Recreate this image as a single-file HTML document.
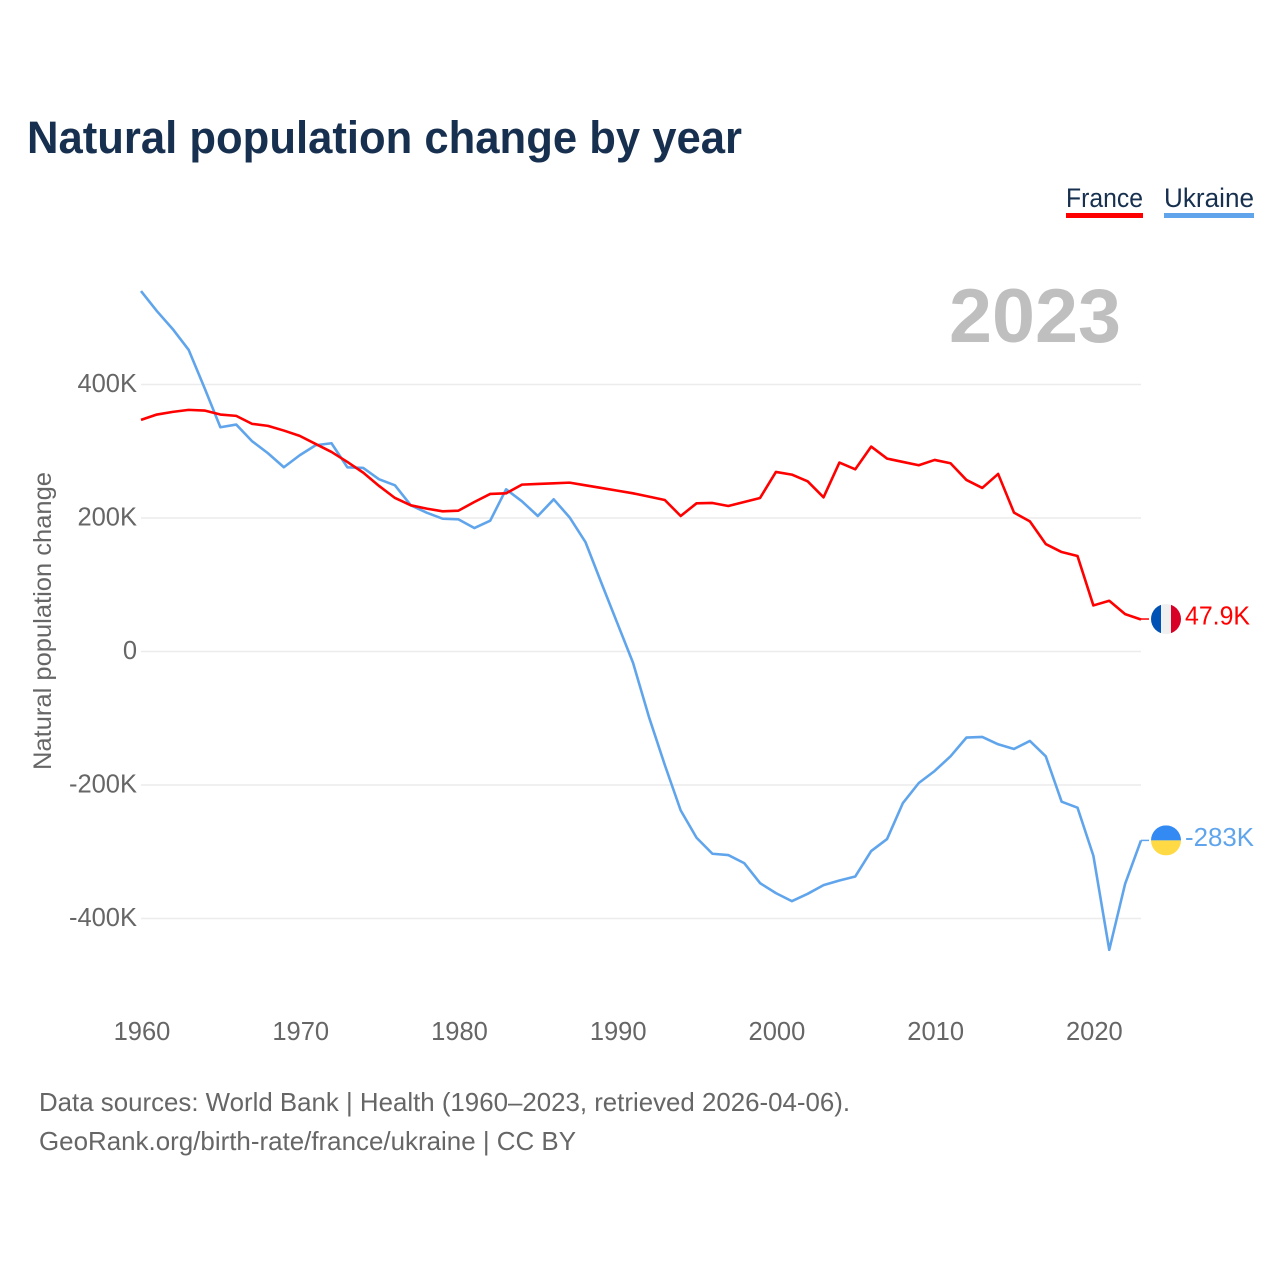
<!DOCTYPE html>
<html lang="en">
<head>
<meta charset="utf-8">
<title>Natural population change by year</title>
<style>
html,body{margin:0;padding:0;background:#fff;}
svg{display:block;}
text{font-family:"Liberation Sans","DejaVu Sans",sans-serif;}
</style>
</head>
<body>
<svg id="chart" xmlns="http://www.w3.org/2000/svg" width="1280" height="1280" viewBox="0 0 1280 1280">
  <defs>
    <clipPath id="flag-clip-fr"><circle cx="1166" cy="0" r="15"></circle></clipPath>
    <clipPath id="flag-clip-ua"><circle cx="1166" cy="0" r="15"></circle></clipPath>
  </defs>
  <text x="27" y="153" font-size="45.5" font-weight="700" fill="#17304f" textLength="715" lengthAdjust="spacingAndGlyphs">Natural population change by year</text>

  <g>
    <text x="1066" y="207" font-size="26.5" fill="#17304f" textLength="77" lengthAdjust="spacingAndGlyphs">France</text>
    <rect x="1066" y="213" width="77" height="5" fill="#ff0000"></rect>
  </g>
  <g>
    <text x="1164" y="207" font-size="26.5" fill="#17304f" textLength="90" lengthAdjust="spacingAndGlyphs">Ukraine</text>
    <rect x="1164" y="213" width="90" height="5" fill="#60a5ec"></rect>
  </g>

  <text x="1121" y="342" font-size="76" font-weight="700" fill="#bfbfbf" text-anchor="end" textLength="172" lengthAdjust="spacingAndGlyphs">2023</text>

  <g id="grid"></g>
  <g id="y-ticks"></g>
  <g id="x-ticks"></g>
  <text transform="translate(51 621) rotate(-90)" font-size="25" fill="#666666" text-anchor="middle" textLength="298" lengthAdjust="spacingAndGlyphs">Natural population change</text>

  <g id="series"></g>
  <g id="end-labels"></g>

  <text x="39" y="1111" font-size="26" fill="#666666" textLength="811" lengthAdjust="spacingAndGlyphs">Data sources: World Bank | Health (1960–2023, retrieved 2026-04-06).</text>
  <text x="39" y="1150" font-size="26" fill="#666666" textLength="537" lengthAdjust="spacingAndGlyphs">GeoRank.org/birth-rate/france/ukraine | CC BY</text>
</svg>
<script>
const years = [1960,1961,1962,1963,1964,1965,1966,1967,1968,1969,1970,1971,1972,1973,1974,1975,1976,1977,1978,1979,1980,1981,1982,1983,1984,1985,1986,1987,1988,1989,1990,1991,1992,1993,1994,1995,1996,1997,1998,1999,2000,2001,2002,2003,2004,2005,2006,2007,2008,2009,2010,2011,2012,2013,2014,2015,2016,2017,2018,2019,2020,2021,2022,2023];
const franceValues = [347,355,359,362,361,355,353,341,338,331,323,311,299,284,268,248,230,219,214,210,211,224,236,237,250,251,252,253,249,245,241,237,232,227,203,222,222.5,218,224,230,269,265,255,231,283,273,307,289,284,279,287,282,257,245,266,208,195,161,149,143,69,76,56,47.9];
const ukraineValues = [540,510,483,452,395,336,340,315,297,276,294,309,312,276,275,258,249,219,208,199,198,185,196,243,225,203,228,201,164,103,43,-17,-98,-170,-238,-279,-303,-305,-317,-347,-362,-374,-363,-350,-343,-337,-299,-281,-227,-197,-179,-157,-129,-128,-139,-146,-134,-157,-225,-234,-306,-447,-348,-283];
const yTickValues = [400,200,0,-200,-400];
const yTickLabels = ["400K","200K","0","-200K","-400K"];
const xTickValues = [1960,1970,1980,1990,2000,2010,2020];
const franceEndLabel = "47.9K";
const ukraineEndLabel = "-283K";

const SVGNS = "http://www.w3.org/2000/svg";
const xScale = function (year) { return 141 + (year - 1960) * (1000 / 63); };
const yScale = function (value) { return 651.5 - value * 0.6675; };

function make(tag, attrs, parent) {
  const el = document.createElementNS(SVGNS, tag);
  Object.keys(attrs).forEach(function (k) { el.setAttribute(k, attrs[k]); });
  parent.appendChild(el);
  return el;
}

const gridGroup = document.getElementById("grid");
const yTickGroup = document.getElementById("y-ticks");
yTickValues.forEach(function (v, i) {
  const line = make("line", {x1: 141, x2: 1141, y1: yScale(v), y2: yScale(v), stroke: "#ececec", "stroke-width": 1.5}, gridGroup);
  
  
  const label = make("text", {x: 137, y: yScale(v) + 7.5, "font-size": 25.5, fill: "#666666", "text-anchor": "end"}, yTickGroup);
  
  
  label.textContent = yTickLabels[i];
});

const xTickGroup = document.getElementById("x-ticks");
xTickValues.forEach(function (v) {
  const label = make("text", {x: xScale(v) + 1, y: 1040, "font-size": 25.5, fill: "#666666", "text-anchor": "middle"}, xTickGroup);
  
  
  label.textContent = String(v);
});

function linePoints(values) {
  return values.map(function (v, i) {
    return xScale(years[i]).toFixed(2) + "," + yScale(v).toFixed(2);
  }).join(" ");
}

const seriesGroup = document.getElementById("series");
const endGroup = document.getElementById("end-labels");

const ukraineLine = make("polyline", {points: linePoints(ukraineValues), fill: "none", stroke: "#60a5ec", "stroke-width": 2.6, "stroke-linejoin": "round"}, seriesGroup);



const franceLine = make("polyline", {points: linePoints(franceValues), fill: "none", stroke: "#ff0000", "stroke-width": 2.6, "stroke-linejoin": "round"}, seriesGroup);



const lastYear = years[years.length - 1];
const franceEndY = yScale(franceValues[franceValues.length - 1]);
const ukraineEndY = yScale(ukraineValues[ukraineValues.length - 1]);

const franceStub = make("line", {x1: xScale(lastYear), x2: 1149, y1: franceEndY - 0.5, y2: franceEndY - 0.5, stroke: "#ff0000", "stroke-width": 1.5}, endGroup);


const ukraineStub = make("line", {x1: xScale(lastYear), x2: 1149, y1: ukraineEndY, y2: ukraineEndY, stroke: "#60a5ec", "stroke-width": 1.5}, endGroup);



const franceFlagY = franceEndY - 0.5;
document.querySelector("#flag-clip-fr circle").setAttribute("cy", franceFlagY);
const franceFlag = make("g", {"clip-path": "url(#flag-clip-fr)"}, endGroup);


make("rect", {x: 1151, y: franceFlagY - 15, width: 30, height: 30, fill: "#f0f0f0"}, franceFlag);
make("rect", {x: 1151, y: franceFlagY - 15, width: 10, height: 30, fill: "#0052b4"}, franceFlag);
make("rect", {x: 1171, y: franceFlagY - 15, width: 10, height: 30, fill: "#d80027"}, franceFlag);

document.querySelector("#flag-clip-ua circle").setAttribute("cy", ukraineEndY);
const ukraineFlag = make("g", {"clip-path": "url(#flag-clip-ua)"}, endGroup);


make("rect", {x: 1151, y: ukraineEndY - 15, width: 30, height: 15, fill: "#338af3"}, ukraineFlag);
make("rect", {x: 1151, y: ukraineEndY, width: 30, height: 15, fill: "#ffda44"}, ukraineFlag);

const franceValueLabel = make("text", {x: 1185, y: franceEndY + 5, "font-size": 25.5, fill: "#ff0000", textLength: 65, lengthAdjust: "spacingAndGlyphs"}, endGroup);


franceValueLabel.textContent = franceEndLabel;

const ukraineValueLabel = make("text", {x: 1185, y: ukraineEndY + 5.5, "font-size": 25.5, fill: "#60a5ec", textLength: 69, lengthAdjust: "spacingAndGlyphs"}, endGroup);


ukraineValueLabel.textContent = ukraineEndLabel;
</script>
</body>
</html>
